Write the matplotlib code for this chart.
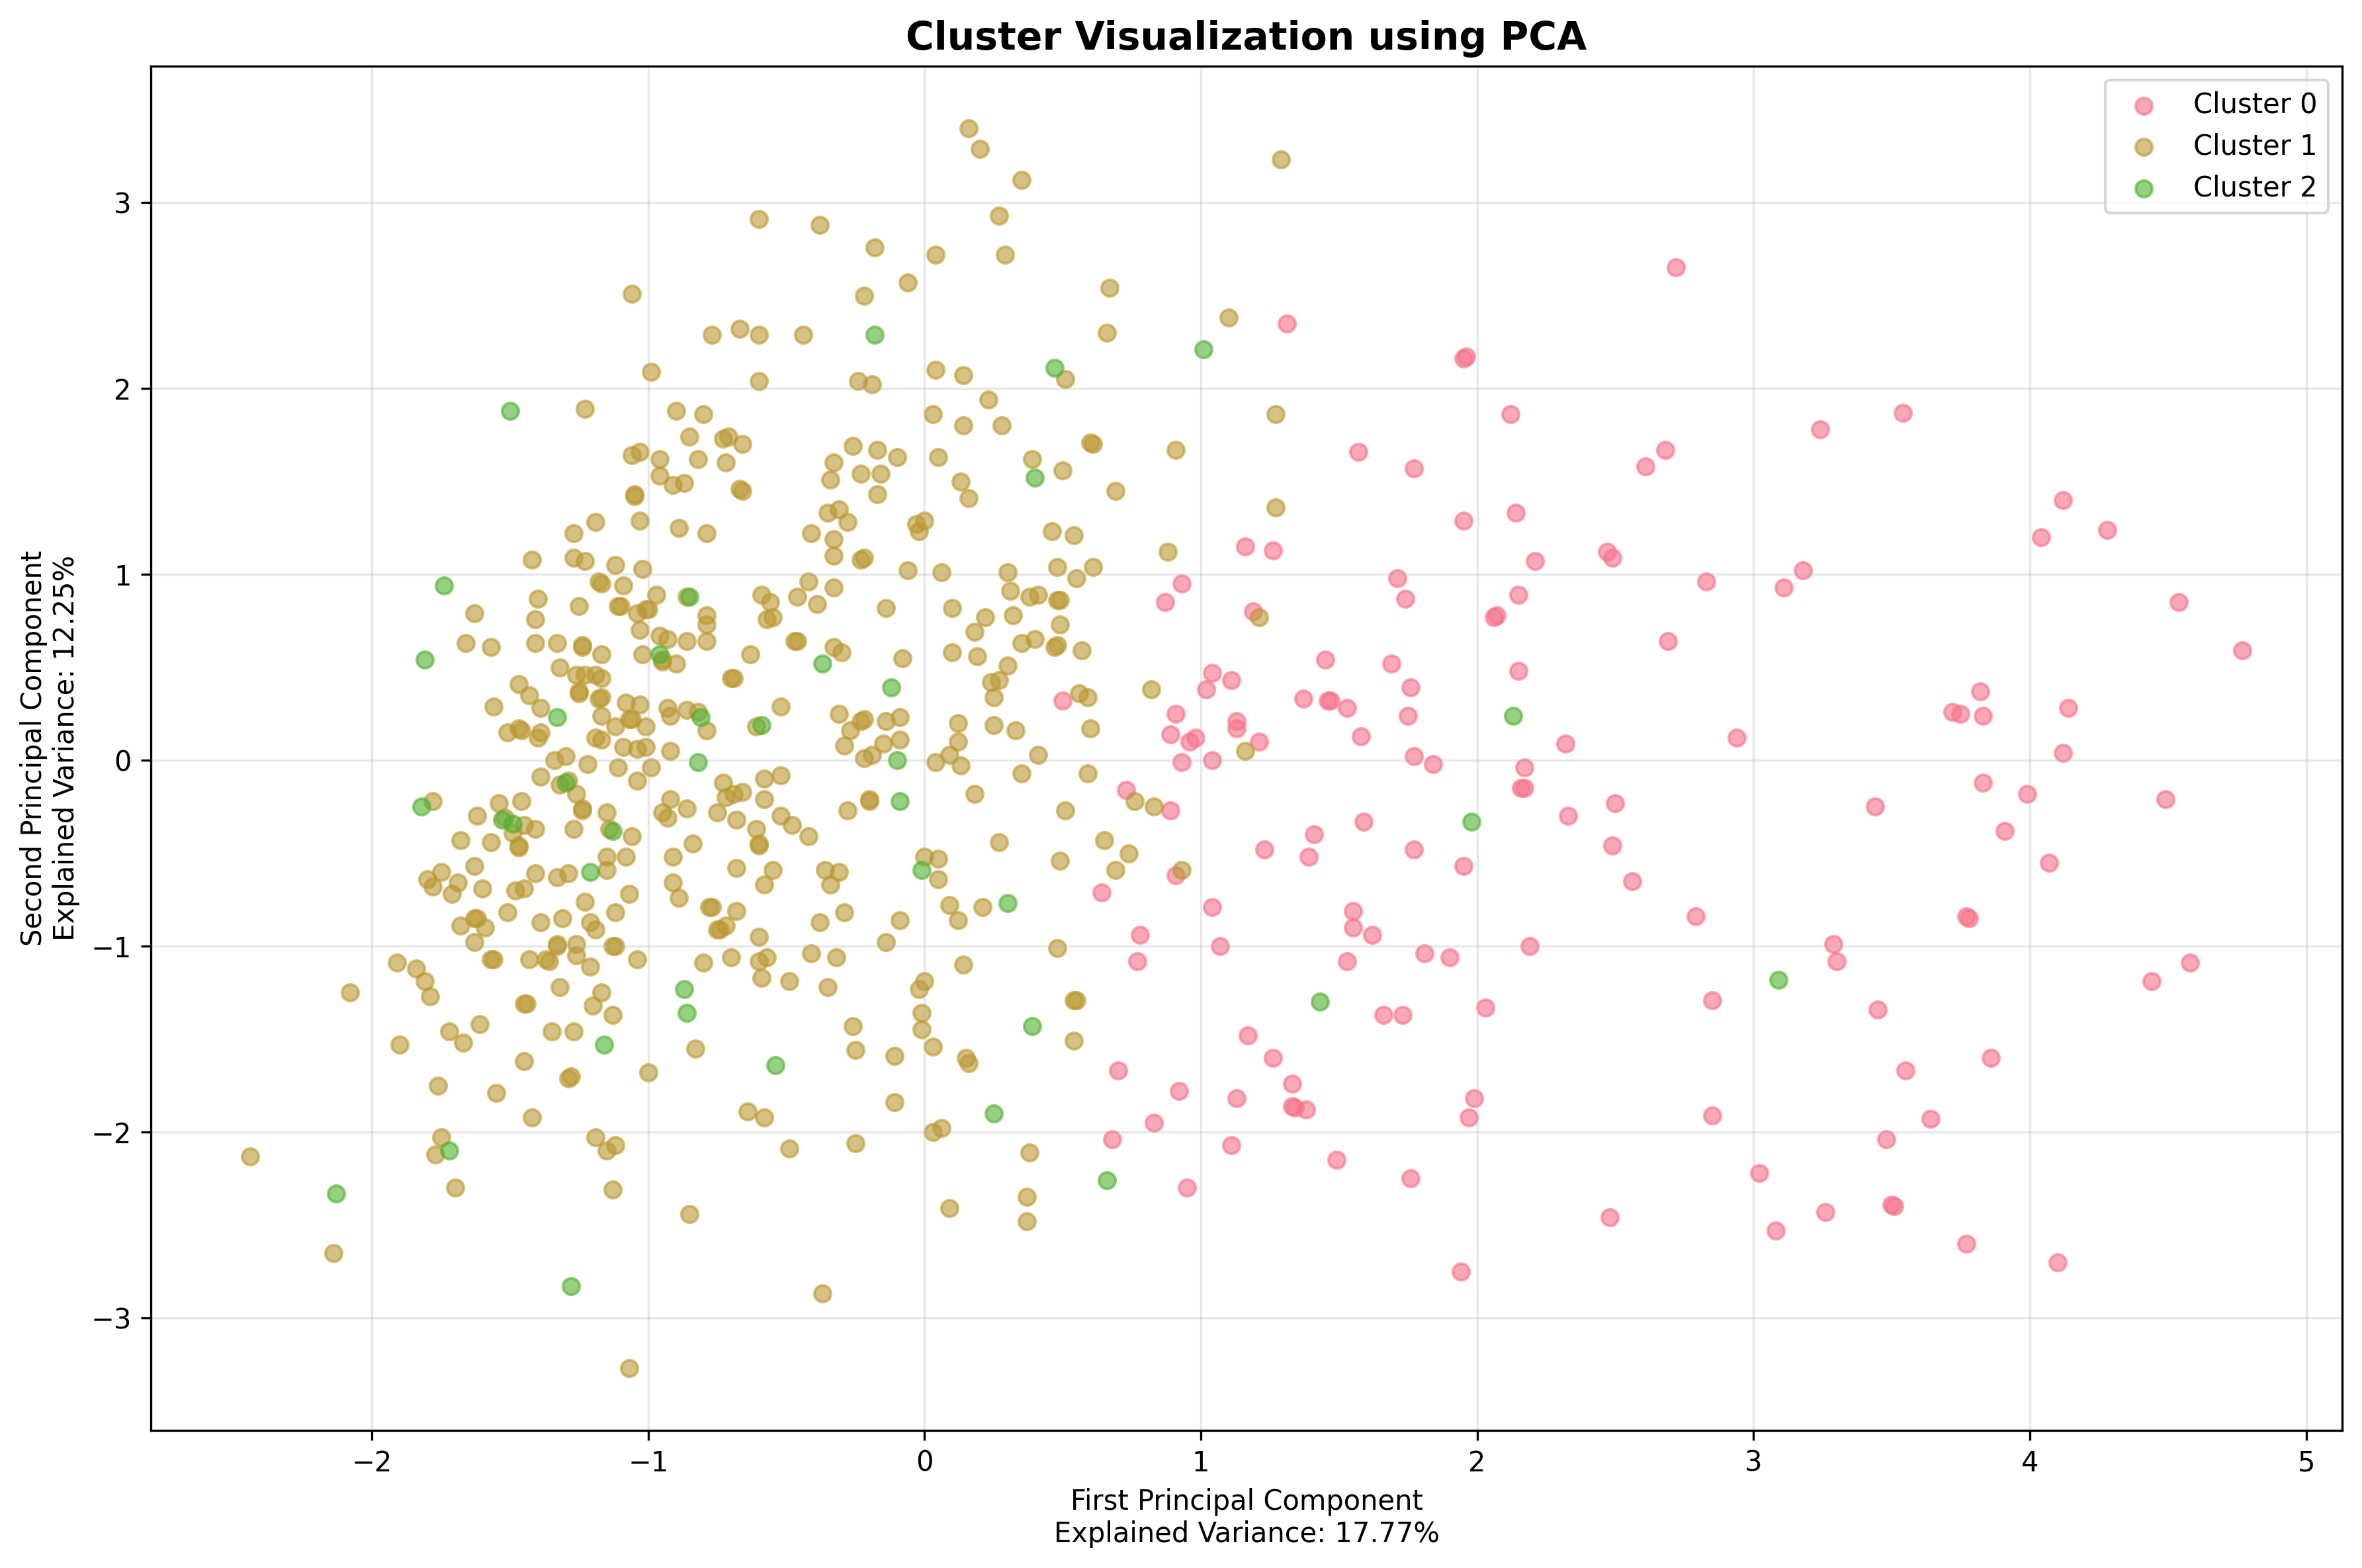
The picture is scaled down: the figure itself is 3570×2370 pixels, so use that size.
import matplotlib
matplotlib.use("Agg")
import matplotlib.pyplot as plt

# ---- data ----
cluster_labels = ["Cluster 0", "Cluster 1", "Cluster 2"]
cluster_colors = ["#f77189", "#bb9832", "#50b131"]

cluster0_pts = [
    (1.31, 2.35),
    (1.16, 1.15), (1.26, 1.13), (0.93, 0.95), (0.87, 0.85), (1.19, 0.80), (0.50, 0.32), (1.04, 0.47),
    (1.11, 0.43), (1.02, 0.38), (1.37, 0.33), (0.91, 0.25), (0.89, 0.14), (0.96, 0.10), (0.98, 0.12),
    (1.13, 0.21), (1.13, 0.17), (1.21, 0.10), (0.93, -0.01), (1.04, 0.00), (0.73, -0.16), (0.89, -0.27),
    (0.91, -0.62), (0.64, -0.71), (1.23, -0.48), (1.39, -0.52), (1.04, -0.79), (0.78, -0.94), (1.07, -1.00),
    (0.77, -1.08), (0.70, -1.67), (1.17, -1.48), (1.26, -1.60), (1.33, -1.74), (1.13, -1.82), (1.33, -1.86),
    (1.34, -1.87), (1.38, -1.88), (0.92, -1.78), (0.83, -1.95), (0.68, -2.04), (1.11, -2.07), (0.95, -2.30),
    (2.72, 2.65), (1.95, 2.16), (1.96, 2.17), (2.12, 1.86), (1.57, 1.66), (1.77, 1.57), (2.68, 1.67),
    (2.61, 1.58), (3.24, 1.78), (3.54, 1.87), (1.95, 1.29), (2.14, 1.33), (4.12, 1.40),
    (4.04, 1.20), (4.28, 1.24), (2.47, 1.12), (2.49, 1.09), (2.21, 1.07), (1.71, 0.98), (1.74, 0.87),
    (2.15, 0.89), (2.06, 0.77), (2.07, 0.78), (2.83, 0.96), (3.18, 1.02), (3.11, 0.93), (4.54, 0.85),
    (2.69, 0.64), (4.77, 0.59), (1.45, 0.54), (1.69, 0.52), (2.15, 0.48), (1.76, 0.39), (1.46, 0.32),
    (1.47, 0.32), (1.53, 0.28), (1.75, 0.24), (1.58, 0.13), (2.32, 0.09), (2.94, 0.12), (1.77, 0.02),
    (1.84, -0.02), (2.17, -0.04), (2.16, -0.15), (2.17, -0.15), (3.82, 0.37), (3.72, 0.26), (3.75, 0.25),
    (3.83, 0.24), (4.14, 0.28), (4.12, 0.04), (3.83, -0.12), (3.99, -0.18), (4.49, -0.21), (3.44, -0.25),
    (3.91, -0.38), (4.07, -0.55), (2.50, -0.23), (2.33, -0.30), (1.59, -0.33), (1.41, -0.40), (2.49, -0.46),
    (1.77, -0.48), (1.95, -0.57), (2.56, -0.65), (1.55, -0.81), (1.55, -0.90), (1.62, -0.94), (2.79, -0.84),
    (3.77, -0.84), (3.78, -0.85), (2.19, -1.00), (3.29, -0.99),
    (1.53, -1.08), (1.81, -1.04), (1.90, -1.06), (3.30, -1.08), (4.58, -1.09), (4.44, -1.19), (1.66, -1.37),
    (1.73, -1.37), (2.03, -1.33), (2.85, -1.29), (3.45, -1.34), (3.55, -1.67), (3.86, -1.60), (1.99, -1.82),
    (1.97, -1.92), (2.85, -1.91), (3.64, -1.93), (3.48, -2.04), (1.49, -2.15), (1.76, -2.25), (3.02, -2.22),
    (3.50, -2.39), (3.51, -2.40), (3.26, -2.43), (2.48, -2.46), (3.08, -2.53), (3.77, -2.60), (4.10, -2.70),
    (1.94, -2.75),
]

cluster1_pts = [
    # upper middle
    (-0.60, 2.91), (-0.38, 2.88), (-0.18, 2.76), (0.04, 2.72), (-0.06, 2.57), (-1.06, 2.51), (-0.22, 2.50),
    (-0.77, 2.29), (-0.67, 2.32), (-0.60, 2.29), (-0.44, 2.29), (-0.99, 2.09), (-0.60, 2.04), (-0.24, 2.04),
    (-0.19, 2.02), (0.04, 2.10), (-1.23, 1.89), (-0.90, 1.88), (-0.80, 1.86), (0.03, 1.86), (-0.85, 1.74),
    (-0.73, 1.73), (-0.71, 1.74), (-0.66, 1.70), (-1.06, 1.64), (-1.03, 1.66), (-0.96, 1.62), (-0.82, 1.62),
    (-0.72, 1.60), (-0.26, 1.69), (-0.33, 1.60), (-0.17, 1.67), (-0.10, 1.63), (0.05, 1.63), (-0.34, 1.51),
    (-0.23, 1.54), (-0.16, 1.54), (-0.17, 1.43), (-0.96, 1.53), (-0.91, 1.48), (-0.87, 1.49), (-1.05, 1.42),
    (-1.05, 1.43), (-0.67, 1.46), (-0.66, 1.45), (-1.19, 1.28), (-1.03, 1.29), (-0.89, 1.25), (-0.35, 1.33),
    (-0.31, 1.35), (-0.28, 1.28), (-0.03, 1.27), (0.00, 1.29),
    # upper right
    (0.16, 3.40), (0.20, 3.29), (0.35, 3.12), (1.29, 3.23), (0.27, 2.93), (0.29, 2.72), (0.67, 2.54),
    (0.66, 2.30), (1.10, 2.38), (0.51, 2.05), (0.14, 2.07), (0.23, 1.94), (0.14, 1.80), (0.28, 1.80),
    (1.27, 1.86), (0.60, 1.71), (0.61, 1.70), (0.91, 1.67), (0.39, 1.62), (0.50, 1.56), (0.13, 1.50),
    (0.16, 1.41), (0.69, 1.45), (1.27, 1.36),
    # left middle
    (-1.27, 1.22), (-1.42, 1.08), (-1.27, 1.09), (-1.40, 0.87), (-1.63, 0.79), (-1.41, 0.76), (-1.25, 0.83),
    (-1.66, 0.63), (-1.57, 0.61), (-1.41, 0.63), (-1.33, 0.63), (-1.24, 0.61), (-1.24, 0.62), (-1.32, 0.50),
    (-1.26, 0.46), (-1.47, 0.41), (-1.43, 0.35), (-1.25, 0.37), (-1.25, 0.36), (-1.56, 0.29), (-1.39, 0.28),
    (-1.51, 0.15), (-1.47, 0.17), (-1.46, 0.16), (-1.40, 0.12), (-1.39, 0.15), (-1.34, 0.00), (-1.30, 0.02),
    (-1.39, -0.09), (-1.32, -0.13), (-1.29, -0.11), (-1.26, -0.18), (-1.78, -0.22), (-1.54, -0.23),
    (-1.46, -0.22), (-1.24, -0.26), (-1.24, -0.27), (-1.62, -0.30), (-1.52, -0.31), (-1.45, -0.35),
    (-1.49, -0.39), (-1.41, -0.37), (-1.27, -0.37), (-1.47, -0.46), (-1.47, -0.47), (-1.68, -0.43),
    (-1.57, -0.44), (-1.63, -0.57), (-1.75, -0.60), (-1.80, -0.64), (-1.78, -0.68), (-1.69, -0.66),
    (-1.71, -0.72), (-1.60, -0.69), (-1.41, -0.61), (-1.33, -0.63), (-1.29, -0.61), (-1.48, -0.70),
    (-1.45, -0.69), (-1.51, -0.82), (-1.68, -0.89), (-1.63, -0.85), (-1.62, -0.85), (-1.59, -0.90),
    (-1.39, -0.87), (-1.31, -0.85), (-1.63, -0.98), (-1.33, -0.99), (-1.33, -1.00), (-1.26, -0.99),
    # left bottom
    (-1.91, -1.09), (-1.84, -1.12), (-1.81, -1.19), (-1.79, -1.27), (-1.56, -1.07), (-1.57, -1.07),
    (-1.43, -1.07), (-1.37, -1.07), (-1.36, -1.08), (-1.26, -1.05), (-2.08, -1.25), (-1.32, -1.22),
    (-1.44, -1.31), (-1.45, -1.31), (-1.72, -1.46), (-1.67, -1.52), (-1.61, -1.42), (-1.90, -1.53),
    (-1.35, -1.46), (-1.27, -1.46), (-1.45, -1.62), (-1.28, -1.70), (-1.29, -1.71), (-1.76, -1.75),
    (-1.55, -1.79), (-1.42, -1.92), (-2.44, -2.13), (-1.75, -2.03), (-1.77, -2.12), (-1.70, -2.30),
    (-2.14, -2.65),
    # centre
    (-0.79, 1.22), (-0.41, 1.22), (-0.33, 1.19), (-0.33, 1.10), (-0.23, 1.08), (-0.22, 1.09), (-0.02, 1.23),
    (-0.06, 1.02), (0.06, 1.01), (-1.23, 1.07), (-1.12, 1.05), (-1.02, 1.03), (-1.18, 0.96), (-1.17, 0.95),
    (-1.09, 0.94), (-0.97, 0.89), (-0.86, 0.88), (-1.11, 0.83), (-1.10, 0.83), (-1.01, 0.81), (-1.00, 0.81),
    (-1.04, 0.79), (-0.79, 0.78), (-0.79, 0.73), (-0.59, 0.89), (-0.56, 0.85), (-0.57, 0.76), (-0.55, 0.77),
    (-0.46, 0.88), (-0.42, 0.96), (-0.39, 0.84), (-0.33, 0.93), (-0.14, 0.82), (-1.03, 0.70), (-0.96, 0.67),
    (-0.93, 0.65), (-0.86, 0.64), (-0.79, 0.64), (-0.47, 0.64), (-0.46, 0.64), (-0.33, 0.61), (-0.30, 0.58),
    (-1.17, 0.57), (-1.02, 0.57), (-0.95, 0.53), (-0.95, 0.54), (-0.90, 0.52), (-0.63, 0.57), (-0.08, 0.55),
    (-1.23, 0.46), (-1.19, 0.46), (-1.17, 0.44), (-0.69, 0.44), (-0.70, 0.44), (-1.18, 0.33), (-1.17, 0.34),
    (-1.08, 0.31), (-1.03, 0.30), (-1.17, 0.24), (-1.12, 0.18), (-1.07, 0.22), (-1.06, 0.22), (-1.01, 0.18),
    (-0.93, 0.28), (-0.92, 0.24), (-0.86, 0.27), (-0.82, 0.26), (-0.79, 0.16), (-0.61, 0.18), (-0.52, 0.29),
    (-0.31, 0.25), (-0.23, 0.21), (-0.22, 0.22), (-0.14, 0.21), (-0.09, 0.23), (-0.27, 0.16), (-0.29, 0.08),
    (-0.15, 0.09), (-0.09, 0.11), (-0.22, 0.01), (-0.19, 0.03), (0.04, -0.01), (-1.17, 0.11), (-1.19, 0.12),
    (-1.09, 0.07), (-1.04, 0.06), (-1.01, 0.07), (-0.92, 0.05), (-1.22, -0.02), (-1.11, -0.04), (-0.99, -0.04),
    (-1.04, -0.11), (-0.73, -0.12), (-0.72, -0.20), (-0.69, -0.18), (-0.66, -0.17), (-0.58, -0.10),
    (-0.52, -0.08), (-0.58, -0.21), (-0.92, -0.21), (-0.95, -0.28), (-0.93, -0.31), (-0.86, -0.26),
    (-0.75, -0.28), (-0.68, -0.32), (-1.15, -0.28), (-1.14, -0.37), (-1.06, -0.41), (-0.52, -0.30),
    (-0.48, -0.35), (-0.42, -0.41), (-0.61, -0.37), (-0.60, -0.45), (-0.60, -0.46), (-0.84, -0.45),
    (-0.28, -0.27), (-0.20, -0.21), (-0.20, -0.22), (-1.15, -0.52), (-1.08, -0.52), (-1.15, -0.59),
    (-0.91, -0.52), (-0.68, -0.58), (-0.55, -0.59), (-0.58, -0.67), (-0.36, -0.59), (-0.31, -0.60),
    (-0.34, -0.67), (0.00, -0.52), (0.05, -0.53), (0.05, -0.64), (-0.91, -0.66), (-0.89, -0.74),
    (-1.07, -0.72), (-1.23, -0.76), (-1.12, -0.82), (-1.21, -0.87), (-1.19, -0.91), (-0.78, -0.79),
    (-0.77, -0.79), (-0.74, -0.91), (-0.75, -0.91), (-0.72, -0.89), (-0.68, -0.81), (-0.60, -0.95),
    (-0.38, -0.87), (-0.29, -0.82), (-0.09, -0.86), (-0.14, -0.98), (-1.13, -1.00), (-1.12, -1.00),
    # centre bottom
    (-1.21, -1.11), (-1.04, -1.07), (-0.80, -1.09), (-0.70, -1.06), (-0.60, -1.08), (-0.57, -1.06),
    (-0.59, -1.17), (-0.49, -1.19), (-0.41, -1.04), (-0.32, -1.06), (-0.35, -1.22), (-1.17, -1.25),
    (-1.20, -1.32), (-1.13, -1.37), (-0.83, -1.55), (-1.00, -1.68), (-0.26, -1.43), (-0.25, -1.56),
    (-0.11, -1.59), (-0.11, -1.84), (-0.02, -1.23), (0.00, -1.19), (-0.01, -1.36), (-0.01, -1.45),
    (0.03, -1.54), (-0.64, -1.89), (-0.58, -1.92), (-1.19, -2.03), (-1.12, -2.07), (-1.15, -2.10),
    (-0.49, -2.09), (-0.25, -2.06), (0.03, -2.00), (0.06, -1.98), (-1.13, -2.31), (-0.85, -2.44),
    (-0.37, -2.87), (-1.07, -3.27),
    # right of centre
    (0.46, 1.23), (0.54, 1.21), (0.88, 1.12), (0.30, 1.01), (0.48, 1.04), (0.55, 0.98), (0.61, 1.04),
    (0.31, 0.91), (0.38, 0.88), (0.41, 0.89), (0.48, 0.86), (0.49, 0.86), (0.10, 0.82), (0.22, 0.77),
    (0.32, 0.78), (0.18, 0.69), (0.49, 0.73), (1.21, 0.77), (0.10, 0.58), (0.19, 0.56), (0.35, 0.63),
    (0.40, 0.65), (0.47, 0.61), (0.48, 0.62), (0.57, 0.59), (0.30, 0.51), (0.24, 0.42), (0.27, 0.43),
    (0.25, 0.34), (0.56, 0.36), (0.59, 0.34), (0.82, 0.38), (0.12, 0.20), (0.12, 0.10), (0.09, 0.03),
    (0.13, -0.03), (0.25, 0.19), (0.33, 0.16), (0.60, 0.17), (1.16, 0.05), (0.41, 0.03), (0.35, -0.07),
    (0.59, -0.07), (0.18, -0.18), (0.76, -0.22), (0.83, -0.25), (0.51, -0.27), (0.27, -0.44), (0.49, -0.54),
    (0.65, -0.43), (0.74, -0.50), (0.69, -0.59), (0.93, -0.59), (0.09, -0.78), (0.12, -0.86), (0.21, -0.79),
    (0.48, -1.01),
    (0.14, -1.10), (0.54, -1.29), (0.55, -1.29), (0.54, -1.51), (0.15, -1.60), (0.16, -1.63), (0.38, -2.11),
    (0.09, -2.41), (0.37, -2.35), (0.37, -2.48),
]

cluster2_pts = [
    (-1.50, 1.88), (-0.18, 2.29), (1.01, 2.21), (0.47, 2.11), (0.40, 1.52), (-1.74, 0.94), (-1.81, 0.54),
    (-1.33, 0.23), (-1.30, -0.12), (-1.82, -0.25), (-1.53, -0.32), (-1.49, -0.34), (-0.85, 0.88),
    (-0.96, 0.57), (-0.37, 0.52), (-0.12, 0.39), (-0.81, 0.23), (-0.59, 0.19), (-0.10, 0.00), (-0.82, -0.01),
    (-1.13, -0.38), (-0.09, -0.22), (-1.21, -0.60), (-0.01, -0.59), (-1.72, -2.10), (-2.13, -2.33),
    (-1.28, -2.83), (-0.87, -1.23), (-0.86, -1.36), (-1.16, -1.53), (-0.54, -1.64), (0.30, -0.77),
    (0.39, -1.43), (0.25, -1.90), (0.66, -2.26), (2.13, 0.24), (1.98, -0.33), (3.09, -1.18), (1.43, -1.30),
]

explained_variance = [17.77, 12.25]

# ---- plot ----
fig, ax = plt.subplots(figsize=(12, 8))
for pts, label, color in zip([cluster0_pts, cluster1_pts, cluster2_pts], cluster_labels, cluster_colors):
    xs = [p[0] for p in pts]
    ys = [p[1] for p in pts]
    ax.scatter(xs, ys, c=color, label=label, alpha=0.6)

ax.set_xlabel(f"First Principal Component\nExplained Variance: {explained_variance[0]:.2f}%")
ax.set_ylabel(f"Second Principal Component\nExplained Variance: {explained_variance[1]:.2f}%")
ax.set_title("Cluster Visualization using PCA", fontsize=14, fontweight="bold")
ax.legend(loc="upper right")
ax.grid(True, alpha=0.3)
plt.tight_layout()
fig.savefig("out.png", dpi=300, bbox_inches="tight")
